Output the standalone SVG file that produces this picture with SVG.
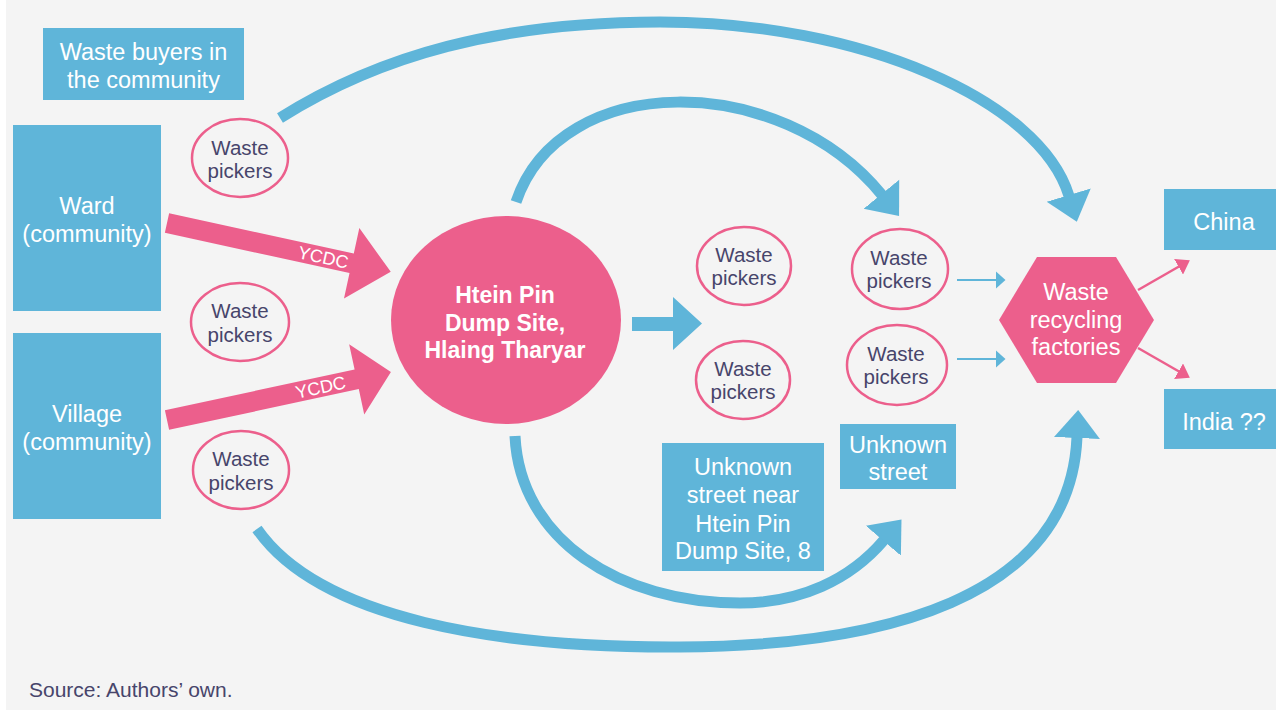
<svg xmlns="http://www.w3.org/2000/svg" width="1276" height="710" viewBox="0 0 1276 710">
<style>
.box{fill:#5fb5d9}
.bt{font-family:"Liberation Sans",Arial,sans-serif;font-size:23.5px;fill:#ffffff;text-anchor:middle}
.pk{fill:none;stroke:#ec5f8c;stroke-width:2.5}
.pt{font-family:"Liberation Sans",Arial,sans-serif;font-size:20.5px;fill:#47456b;text-anchor:middle}
.flow{fill:none;stroke:#5fb5d9;stroke-width:11}
.thin{fill:none;stroke:#5fb5d9;stroke-width:2}
.pthin{fill:none;stroke:#ec5f8c;stroke-width:2.5}
.ycdc{font-family:"Liberation Sans",Arial,sans-serif;font-size:18px;fill:#ffffff;text-anchor:middle}
.ct{font-family:"Liberation Sans",Arial,sans-serif;font-size:23px;font-weight:bold;fill:#ffffff;text-anchor:middle}
</style>
<defs>
<marker id="bigHead" markerUnits="userSpaceOnUse" markerWidth="28" markerHeight="48" viewBox="0 0 28 48" refX="1" refY="24" orient="auto">
<path d="M0,1 L28,24 L0,47 Z" fill="#5fb5d9"/>
</marker>
<marker id="smallBlue" markerUnits="userSpaceOnUse" markerWidth="10" markerHeight="18" viewBox="0 0 10 18" refX="0.5" refY="9" orient="auto">
<path d="M0,0 L10,9 L0,18 Z" fill="#5fb5d9"/>
</marker>
<marker id="smallPink" markerUnits="userSpaceOnUse" markerWidth="13" markerHeight="18" viewBox="0 0 13 18" refX="0.5" refY="9" orient="auto">
<path d="M0,0 L13,9 L0,18 Z" fill="#ec5f8c"/>
</marker>
</defs>
<rect x="0" y="0" width="1276" height="710" fill="#ffffff"/>
<rect x="6" y="0" width="1270" height="710" fill="#f4f4f4"/>

<g id="connectors">
<path class="flow" d="M280,118 C380,55 500,22 660,22 C860,22 1040,100 1069,196" marker-end="url(#bigHead)"/>
<path class="flow" d="M516,202 C560,70 780,70 882,195" marker-end="url(#bigHead)"/>
<path class="flow" d="M515,436 C520,540 620,603 740,603 C800,603 850,580 884,540" marker-end="url(#bigHead)"/>
<path class="flow" d="M257,529 C320,620 500,648 680,647 C880,646 1070,600 1077,437" marker-end="url(#bigHead)"/>
<polygon fill="#5fb5d9" points="632,317 673,317 673,297 702,323.5 673,350 673,331 632,331"/>
<line class="thin" x1="957" y1="280" x2="996" y2="280" marker-end="url(#smallBlue)"/>
<line class="thin" x1="957" y1="359" x2="996" y2="359" marker-end="url(#smallBlue)"/>
<line class="pthin" x1="1138" y1="290" x2="1179" y2="266.5" marker-end="url(#smallPink)"/>
<line class="pthin" x1="1138" y1="348" x2="1179" y2="371.5" marker-end="url(#smallPink)"/>
<g transform="translate(167,223) rotate(12.3)">
<polygon fill="#ec5f8c" points="0,-10 189,-10 189,-36 229,0 189,36 189,10 0,10"/>
<text class="ycdc" x="160" y="6.5">YCDC</text>
</g>
<g transform="translate(167,420) rotate(-12.1)">
<polygon fill="#ec5f8c" points="0,-10 194,-10 194,-36 229,0 194,36 194,10 0,10"/>
<text class="ycdc" x="157" y="6.5">YCDC</text>
</g>
</g>

<g id="buyers">
<rect class="box" x="43" y="28" width="201" height="72"/>
<text class="bt" x="143.5" y="60">Waste buyers in</text>
<text class="bt" x="143.5" y="88">the community</text>
</g>
<g id="ward">
<rect class="box" x="13" y="125" width="148" height="186"/>
<text class="bt" x="87" y="214">Ward</text>
<text class="bt" x="87" y="242">(community)</text>
</g>
<g id="village">
<rect class="box" x="13" y="333" width="148" height="186"/>
<text class="bt" x="87" y="422">Village</text>
<text class="bt" x="87" y="450">(community)</text>
</g>

<g id="pickers1">
<ellipse class="pk" cx="240" cy="158" rx="48" ry="39"/>
<text class="pt" x="240" y="155">Waste</text>
<text class="pt" x="240" y="178">pickers</text>
</g>
<g id="pickers2">
<ellipse class="pk" cx="240" cy="322" rx="49" ry="39"/>
<text class="pt" x="240" y="318">Waste</text>
<text class="pt" x="240" y="342">pickers</text>
</g>
<g id="pickers3">
<ellipse class="pk" cx="241" cy="470" rx="48" ry="39"/>
<text class="pt" x="241" y="466">Waste</text>
<text class="pt" x="241" y="490">pickers</text>
</g>

<g id="dumpsite">
<ellipse cx="506" cy="320" rx="115" ry="104" fill="#ec5f8c"/>
<text class="ct" x="505" y="303">Htein Pin</text>
<text class="ct" x="505" y="331">Dump Site,</text>
<text class="ct" x="505" y="358">Hlaing Tharyar</text>
</g>

<g id="pickers4">
<ellipse class="pk" cx="744" cy="266" rx="47" ry="39"/>
<text class="pt" x="744" y="262">Waste</text>
<text class="pt" x="744" y="285">pickers</text>
</g>
<g id="pickers5">
<ellipse class="pk" cx="743" cy="380" rx="47" ry="39"/>
<text class="pt" x="743" y="376">Waste</text>
<text class="pt" x="743" y="399">pickers</text>
</g>
<g id="pickers6">
<ellipse class="pk" cx="900" cy="269" rx="48" ry="40"/>
<text class="pt" x="899" y="265">Waste</text>
<text class="pt" x="899" y="288">pickers</text>
</g>
<g id="pickers7">
<ellipse class="pk" cx="897" cy="365" rx="50" ry="40"/>
<text class="pt" x="896" y="361">Waste</text>
<text class="pt" x="896" y="384">pickers</text>
</g>

<g id="factories">
<polygon fill="#ec5f8c" points="1037,257 1116,257 1154,320 1116,383 1037,383 999,320"/>
<text class="bt" x="1076" y="300">Waste</text>
<text class="bt" x="1076" y="328">recycling</text>
<text class="bt" x="1076" y="355">factories</text>
</g>
<g id="china">
<rect class="box" x="1164" y="189" width="120" height="61"/>
<text class="bt" x="1224" y="230">China</text>
</g>
<g id="india">
<rect class="box" x="1164" y="389" width="120" height="60"/>
<text class="bt" x="1224" y="430">India ??</text>
</g>

<g id="street-near">
<rect class="box" x="662" y="443" width="162" height="128"/>
<text class="bt" x="743" y="475">Unknown</text>
<text class="bt" x="743" y="503">street near</text>
<text class="bt" x="743" y="532">Htein Pin</text>
<text class="bt" x="743" y="559">Dump Site, 8</text>
</g>
<g id="street">
<rect class="box" x="840" y="424" width="116" height="65"/>
<text class="bt" x="898" y="453">Unknown</text>
<text class="bt" x="898" y="480">street</text>
</g>

<text x="29" y="697" font-family="Liberation Sans, Arial, sans-serif" font-size="21" fill="#47456b">Source: Authors’ own.</text>
</svg>
